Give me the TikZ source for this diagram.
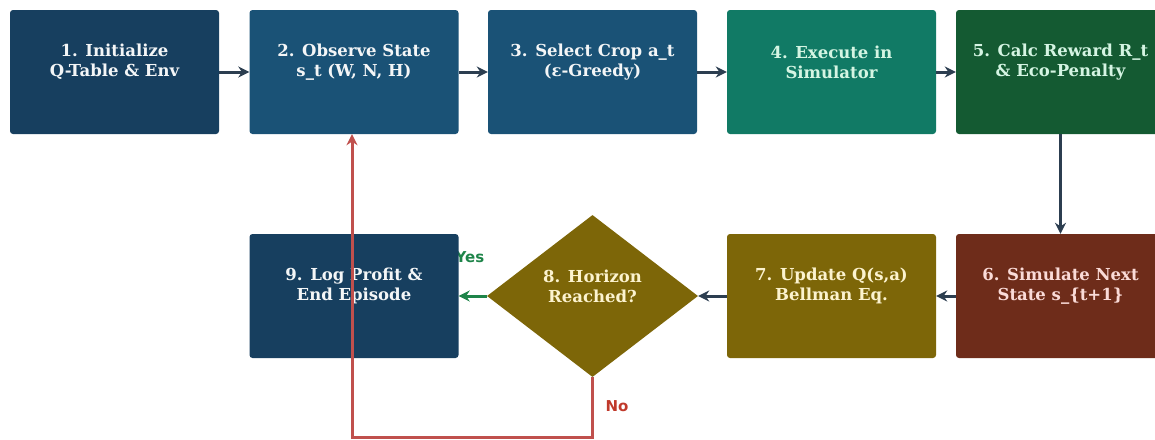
\documentclass[tikz,border=0pt]{standalone}
\usepackage{fontspec}
\setmainfont{DejaVu Serif}
\setsansfont{DejaVu Sans}
\usetikzlibrary{shapes.geometric,arrows.meta}
\definecolor{cA}{HTML}{173F5F}
\definecolor{cB}{HTML}{1A5276}
\definecolor{cC}{HTML}{117A65}
\definecolor{cD}{HTML}{145A32}
\definecolor{cE}{HTML}{6E2C1A}
\definecolor{cF}{HTML}{7D6608}
\definecolor{cArrow}{HTML}{2C3E50}
\definecolor{cYes}{HTML}{1E8449}
\definecolor{cNo}{HTML}{C0392B}
\definecolor{cLoop}{HTML}{C0504D}
\definecolor{tA}{HTML}{F4F6F7}
\definecolor{tC}{HTML}{D5F5E3}
\definecolor{tF}{HTML}{FCF3CF}
\definecolor{tE}{HTML}{FADBD8}
\tikzset{
  x=1pt, y=-1pt,
  box/.style={rectangle, rounded corners=3pt, minimum width=209pt, minimum height=124pt, inner sep=0pt},
  txt/.style={font=\fontsize{16.5}{20}\selectfont\bfseries, align=center},
  flow/.style={draw=cArrow, line width=3pt, -{Stealth[length=11pt,width=11pt]}},
}
\begin{document}
\begin{tikzpicture}
\useasboundingbox (0,0) rectangle (1155,439);
\node[font=\sffamily\bfseries\fontsize{15}{17}\selectfont, text=cYes] (yes) at (470,257) {Yes};
\node[box, fill=cA] (n1) at (114.5,72) {};
\node[box, fill=cB] (n2) at (354,72) {};
\node[box, fill=cB] (n3) at (592.5,72) {};
\node[box, fill=cC] (n4) at (831.5,72) {};
\node[box, fill=cD] (n5) at (1060.5,72) {};
\node[box, fill=cE] (n6) at (1060.5,296) {};
\node[box, fill=cF] (n7) at (831.5,296) {};
\node[diamond, fill=cF, minimum width=211pt, minimum height=162pt, inner sep=0pt] (n8) at (592.5,296) {};
\node[box, fill=cA] (n9) at (354,296) {};
\node[txt, text=tA] at ([yshift=10pt]n1.center) {1. Initialize\\Q-Table \& Env};
\node[txt, text=tA] at ([yshift=10pt]n2.center) {2. Observe State\\s\_t (W, N, H)};
\node[txt, text=tA] at ([yshift=10pt]n3.center) {3. Select Crop a\_t\\(ε-Greedy)};
\node[txt, text=tC] at ([yshift=10pt]n4.center) {4. Execute in\\Simulator};
\node[txt, text=tC] at ([yshift=10pt]n5.center) {5. Calc Reward R\_t\\\& Eco-Penalty};
\node[txt, text=tE] at ([yshift=10pt]n6.center) {6. Simulate Next\\State s\_\{t+1\}};
\node[txt, text=tF] at ([yshift=10pt]n7.center) {7. Update Q(s,a)\\Bellman Eq.};
\node[txt, text=tF] at ([yshift=10pt]n8.center) {8. Horizon\\Reached?};
\node[txt, text=tA] at ([yshift=10pt]n9.center) {9. Log Profit \&\\End Episode};
\draw[flow] (n1) -- (n2);
\draw[flow] (n2) -- (n3);
\draw[flow] (n3) -- (n4);
\draw[flow] (n4) -- (n5);
\draw[flow] (n5) -- (n6);
\draw[flow] (n6) -- (n7);
\draw[flow] (n7) -- (n8);
\draw[flow, draw=cYes] (n8) -- (n9);
\coordinate (c1) at (592.5,437);
\coordinate (c2) at (352,437);
\draw[flow, draw=cLoop] (n8.south) -- (c1) -- (c2) -- (n2.south -| c2);
\node[font=\sffamily\bfseries\fontsize{15}{17}\selectfont, text=cNo] (no) at (617,406) {No};
\end{tikzpicture}
\end{document}
